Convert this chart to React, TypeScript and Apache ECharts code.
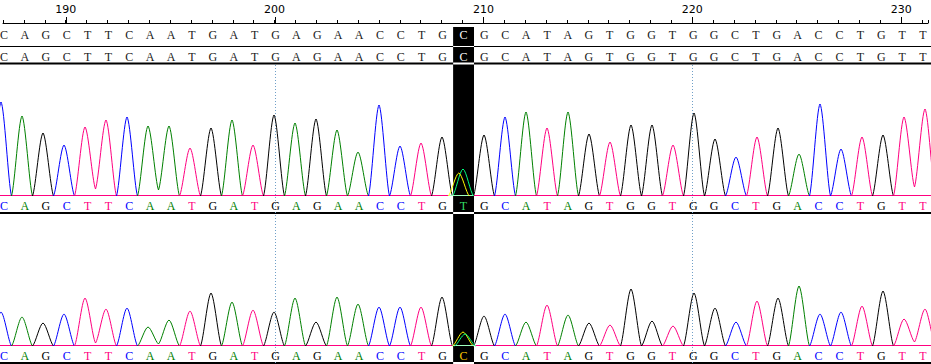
import React, { useEffect, useRef } from 'react';
import * as echarts from 'echarts';

// ---------- data ----------
const FIRST_POS = 187;
const PX_PER_BASE = 21;
const CHART_W = 931;
const CHART_H = 364;

const rulerLabels = [190, 200, 210, 220, 230];
const guidePositions = [200, 220];
const highlightPos = 209;

const referenceSeq = 'CAGCTTCAATGATGAGAACCTGCGCATAGTGGTGGCTGACCTGTT';
const alignedSeq = 'CAGCTTCAATGATGAGAACCTGCGCATAGTGGTGGCTGACCTGTT';
const trace1Calls = 'CAGCTTCAATGATGAGAACCTGTGCATAGTGGTGGCTGACCTGTT';
const trace2Calls = 'CAGCTTCAATGATGAGAACCTGCGCATAGTGGTGGCTGACCTGTT';

// peak heights (px) of the called base, one per position 187..231
const trace1Heights = [
  94, 80, 63, 51, 69, 76, 79, 70, 70, 48, 68, 76, 51, 81, 73,
  77, 66, 44, 91, 50, 53, 59, 27, 61, 79, 84, 68, 84, 62, 54,
  71, 71, 51, 83, 57, 39, 59, 68, 42, 92, 47, 59, 61, 79, 87,
];
const trace2Heights = [
  34, 29, 23, 32, 48, 37, 38, 19, 26, 35, 53, 44, 36, 34, 48,
  24, 49, 42, 39, 39, 39, 49, 14, 30, 32, 24, 41, 31, 23, 21,
  57, 25, 20, 53, 38, 24, 45, 48, 60, 32, 34, 40, 55, 27, 37,
];
// secondary (mixed) peaks: [position, base, height]
const trace1Secondary: [number, string, number][] = [[208.8, 'C', 23]];
const trace2Secondary: [number, string, number][] = [[209.1, 'T', 12]];
// valleys between two neighbouring peaks of the same base: [position, height]
const trace1Valleys: [number, number][] = [[191.5, 7], [194.5, 6], [230.5, 9]];
const trace2Valleys: [number, number][] = [[191.5, 3], [194.5, 2], [230.5, 4]];

// ---------- styles ----------
const BASES = ['A', 'C', 'G', 'T'];
const BASE_COLORS: Record<string, string> = { A: '#008000', C: '#0000ff', G: '#000000', T: '#ff0080' };
const INVERT_COLORS: Record<string, string> = { A: '#ff7fff', C: '#ffff00', G: '#ffffff', T: '#00ff7f' };
const LETTER_FONT = '12px "Liberation Serif"';
const ROW_Y = [35, 57, 206, 356];
const H_LINES: [number, number][] = [[46.5, 1], [63.5, 2], [213, 2], [363, 2]];

const xMin = FIRST_POS;
const xMax = FIRST_POS + (CHART_W - 1) / PX_PER_BASE;

function buildTraceItems(calls: string, heights: number[], secondary: [number, string, number][], valleys: [number, number][]) {
  const valleyAt = (p: number) => {
    const v = valleys.find((d) => Math.abs(d[0] - p) < 0.01);
    return v ? v[1] : 0;
  };
  const items: number[][] = [];
  for (let i = 0; i < calls.length; i++) {
    const pos = FIRST_POS + i;
    const inv = Math.abs(pos - highlightPos) < 0.5 ? 1 : 0;
    items.push([pos, heights[i], BASES.indexOf(calls[i]), valleyAt(pos - 0.5), valleyAt(pos + 0.5), inv]);
  }
  secondary.forEach(([pos, b, h]) => {
    const inv = Math.abs(pos - highlightPos) < 0.5 ? 1 : 0;
    items.push([pos, h, BASES.indexOf(b), 0, 0, inv]);
  });
  return items;
}

function peakRender(params: any, api: any) {
  const pos = api.value(0);
  const h = api.value(1);
  const ch = BASES[api.value(2)];
  const vl = api.value(3);
  const vr = api.value(4);
  const inv = api.value(5);
  const p0 = api.coord([pos - 0.5, vl]);
  const pa = api.coord([pos, h]);
  const p1 = api.coord([pos + 0.5, vr]);
  const color = inv ? INVERT_COLORS[ch] : BASE_COLORS[ch];
  const dxl = pa[0] - p0[0];
  const dxr = p1[0] - pa[0];
  const riseL = pa[1] - p0[1];
  const riseR = pa[1] - p1[1];
  const children: any[] = [
    {
      type: 'bezierCurve',
      shape: {
        x1: p0[0], y1: p0[1],
        cpx1: p0[0] + 0.3 * dxl, cpy1: p0[1] + 0.12 * riseL,
        cpx2: p0[0] + 0.68 * dxl, cpy2: p0[1] + 0.96 * riseL,
        x2: pa[0], y2: pa[1],
      },
      style: { stroke: color, lineWidth: 1, fill: null },
    },
    {
      type: 'bezierCurve',
      shape: {
        x1: pa[0], y1: pa[1],
        cpx1: pa[0] + 0.32 * dxr, cpy1: p1[1] + 0.96 * riseR,
        cpx2: pa[0] + 0.7 * dxr, cpy2: p1[1] + 0.12 * riseR,
        x2: p1[0], y2: p1[1],
      },
      style: { stroke: color, lineWidth: 1, fill: null },
    },
  ];
  if (inv) {
    const b0 = api.coord([pos - 0.5, 0]);
    const b1 = api.coord([pos + 0.5, 0]);
    children.unshift({
      type: 'line',
      shape: { x1: b0[0], y1: b0[1] - 0.5, x2: b1[0], y2: b1[1] - 0.5 },
      style: { stroke: '#9fffbf', lineWidth: 1 },
    });
  }
  return { type: 'group', children };
}

function baselineRender(params: any, api: any) {
  const cs = params.coordSys;
  const y = api.coord([xMin, 0])[1] - 0.5;
  return {
    type: 'line',
    shape: { x1: cs.x - 1, y1: y, x2: cs.x + cs.width, y2: y },
    style: { stroke: BASE_COLORS.T, lineWidth: 1 },
  };
}

function buildOption() {
  const t1 = buildTraceItems(trace1Calls, trace1Heights, trace1Secondary, trace1Valleys);
  const t2 = buildTraceItems(trace2Calls, trace2Heights, trace2Secondary, trace2Valleys);

  const rows = [referenceSeq, alignedSeq, trace1Calls, trace2Calls];
  const letterItems: number[][] = [];
  const letterText: string[] = [];
  const letterColor: string[] = [];
  rows.forEach((seq, r) => {
    for (let i = 0; i < seq.length; i++) {
      const pos = FIRST_POS + i;
      const b = seq[i];
      const inBox = pos === highlightPos;
      letterItems.push([pos, r]);
      letterText.push(b);
      let c: string;
      if (r < 2) c = inBox ? '#ffffff' : '#202020';
      else if (inBox) c = r === 2 ? '#33dd66' : '#ffcc00';
      else c = BASE_COLORS[b];
      letterColor.push(c);
    }
  });

  const axisX = (gi: number) => ({ gridIndex: gi, type: 'value', min: xMin, max: xMax, show: false });

  return {
    animation: false,
    backgroundColor: '#ffffff',
    grid: [
      { left: 1, right: 0, top: 23, height: CHART_H - 23 },
      { left: 1, right: 0, top: 76, height: 120 },
      { left: 1, right: 0, top: 226, height: 120 },
    ],
    xAxis: [
      {
        gridIndex: 0,
        type: 'value',
        min: xMin,
        max: xMax,
        interval: 1,
        position: 'top',
        axisLine: { show: true, lineStyle: { color: '#000', width: 1 } },
        axisTick: { show: true, length: 3, lineStyle: { color: '#000', width: 1 } },
        axisLabel: {
          show: true,
          margin: 8,
          fontSize: 11,
          fontFamily: 'DejaVu Sans',
          color: '#000',
          formatter: (v: number) => {
            const r = Math.round(v);
            return Math.abs(v - r) < 1e-6 && rulerLabels.includes(r) ? String(r) : '';
          },
        },
        splitLine: { show: false },
      },
      axisX(1),
      axisX(2),
    ],
    yAxis: [
      { gridIndex: 0, type: 'value', min: 0, max: CHART_H - 23, inverse: true, show: false },
      { gridIndex: 1, type: 'value', min: 0, max: 120, show: false },
      { gridIndex: 2, type: 'value', min: 0, max: 120, show: false },
    ],
    series: [
      // horizontal separator lines
      {
        type: 'custom',
        xAxisIndex: 0,
        yAxisIndex: 0,
        z: 1,
        silent: true,
        data: [[xMin, 0]],
        renderItem: () => ({
          type: 'group',
          children: H_LINES.map(([y, w]) => ({
            type: 'line',
            shape: { x1: 0, y1: y, x2: CHART_W, y2: y },
            style: { stroke: '#000', lineWidth: w },
          })),
        }),
      },
      // long ruler ticks at labelled positions
      {
        type: 'custom',
        xAxisIndex: 0,
        yAxisIndex: 0,
        z: 1,
        silent: true,
        data: rulerLabels.map((p) => [p, 0]),
        renderItem: (params: any, api: any) => {
          const x = Math.round(api.coord([api.value(0), 0])[0]) + 0.5;
          return { type: 'line', shape: { x1: x, y1: 17, x2: x, y2: 23 }, style: { stroke: '#000', lineWidth: 1 } };
        },
      },
      // dotted guides
      {
        type: 'custom',
        xAxisIndex: 0,
        yAxisIndex: 0,
        z: 1,
        silent: true,
        data: guidePositions.map((p) => [p, 0]),
        renderItem: (params: any, api: any) => {
          const x = Math.round(api.coord([api.value(0), 0])[0]) + 0.5;
          return {
            type: 'line',
            shape: { x1: x, y1: 65, x2: x, y2: CHART_H },
            style: { stroke: '#6f9fc8', lineWidth: 1, lineDash: [1, 2] },
          };
        },
      },
      // baselines
      { type: 'custom', xAxisIndex: 1, yAxisIndex: 1, z: 2, silent: true, data: [[xMin, 0]], renderItem: baselineRender },
      { type: 'custom', xAxisIndex: 2, yAxisIndex: 2, z: 2, silent: true, data: [[xMin, 0]], renderItem: baselineRender },
      // traces
      { type: 'custom', xAxisIndex: 1, yAxisIndex: 1, z: 2, silent: true, data: t1.filter((d) => !d[5]), renderItem: peakRender },
      { type: 'custom', xAxisIndex: 2, yAxisIndex: 2, z: 2, silent: true, data: t2.filter((d) => !d[5]), renderItem: peakRender },
      // highlight column
      {
        type: 'custom',
        xAxisIndex: 0,
        yAxisIndex: 0,
        z: 3,
        silent: true,
        data: [[highlightPos, 0]],
        renderItem: (params: any, api: any) => {
          const pos = api.value(0);
          const xa = api.coord([pos - 0.45, 0])[0];
          const xb = api.coord([pos + 0.55, 0])[0];
          return {
            type: 'group',
            children: [
              { type: 'rect', shape: { x: xa, y: 27, width: xb - xa, height: CHART_H - 27 }, style: { fill: '#000' } },
              ...H_LINES.map(([y, w]) => ({
                type: 'line',
                shape: { x1: xa, y1: y, x2: xb, y2: y },
                style: { stroke: '#fff', lineWidth: w },
              })),
            ],
          };
        },
      },
      // inverted traces inside the column
      { type: 'custom', xAxisIndex: 1, yAxisIndex: 1, z: 4, silent: true, data: t1.filter((d) => d[5]), renderItem: peakRender },
      { type: 'custom', xAxisIndex: 2, yAxisIndex: 2, z: 4, silent: true, data: t2.filter((d) => d[5]), renderItem: peakRender },
      // letters
      {
        type: 'custom',
        xAxisIndex: 0,
        yAxisIndex: 0,
        z: 5,
        silent: true,
        data: letterItems,
        renderItem: (params: any, api: any) => {
          const i = params.dataIndex;
          const x = api.coord([api.value(0), 0])[0];
          const y = ROW_Y[api.value(1)];
          return {
            type: 'text',
            style: {
              text: letterText[i],
              x: x + 1,
              y,
              fill: letterColor[i],
              font: LETTER_FONT,
              align: 'center',
              verticalAlign: 'middle',
            },
          };
        },
      },
    ],
  };
}

export default function App() {
  const ref = useRef<HTMLDivElement>(null);
  useEffect(() => {
    document.body.style.margin = '0';
    const chart = echarts.init(ref.current!, null, { renderer: 'svg' });
    chart.setOption(buildOption() as any);
    return () => chart.dispose();
  }, []);
  return <div ref={ref} style={{ width: CHART_W, height: CHART_H }} />;
}
